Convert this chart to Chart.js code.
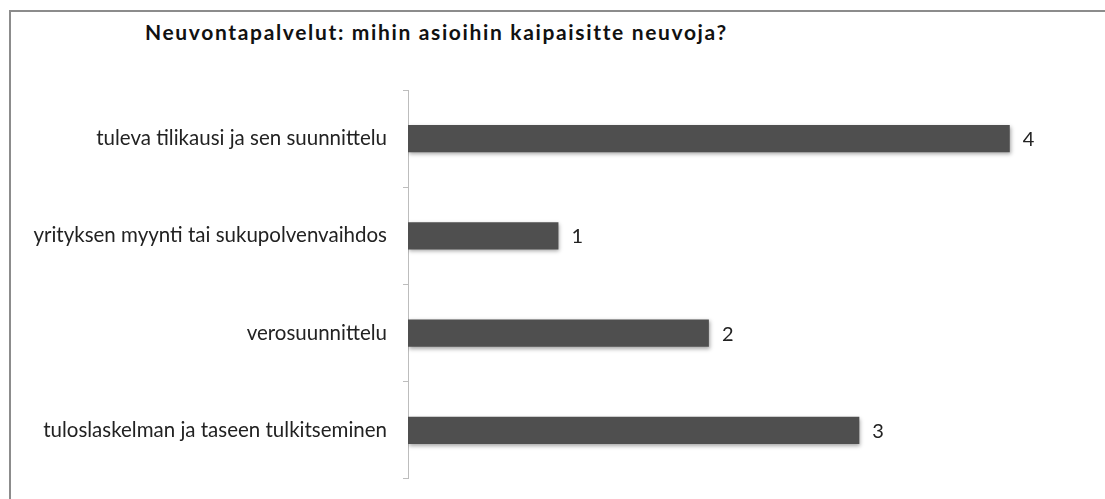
<!DOCTYPE html>
<html>
<head>
<meta charset="utf-8">
<script src="https://cdn.jsdelivr.net/npm/chart.js@4.4.1/dist/chart.umd.min.js"></script>
<style>
    html, body { margin: 0; padding: 0; background: #fff; }
    #wrap { position: relative; width: 1105px; height: 499px; overflow: hidden; }
    #frame {
        position: absolute; left: 9px; top: 10px; right: -5px; bottom: -5px;
        border-top: 2px solid #8c8c8c; border-left: 2px solid #8c8c8c;
    }
    #title {
        position: absolute; left: 145px; top: 19px;
        font: bold 21px Lato, sans-serif; letter-spacing: 1.65px; color: #111;
    }
    #chart { position: absolute; left: 0; top: 0; }
</style>
</head>
<body>
<div id="wrap">
    <div id="frame"></div>
    <div id="title">Neuvontapalvelut: mihin asioihin kaipaisitte neuvoja?</div>
    <canvas id="chart" width="1105" height="499"></canvas>
</div>
<script>
const categories = [
    'tuleva tilikausi ja sen suunnittelu',
    'yrityksen myynti tai sukupolvenvaihdos',
    'verosuunnittelu',
    'tuloslaskelman ja taseen tulkitseminen'
];
const answers = [4, 1, 2, 3];

// bar shadow + value labels next to each bar
const barExtras = {
    id: 'barExtras',
    beforeDatasetsDraw(chart) {
        const ctx = chart.ctx;
        ctx.save();
        ctx.shadowColor = 'rgba(0,0,0,0.35)';
        ctx.shadowBlur = 4;
        ctx.shadowOffsetX = 1;
        ctx.shadowOffsetY = 2;
    },
    afterDatasetsDraw(chart) {
        const ctx = chart.ctx;
        ctx.restore();
        ctx.save();
        ctx.font = '20px Lato, sans-serif';
        ctx.fillStyle = '#222';
        ctx.textBaseline = 'middle';
        chart.getDatasetMeta(0).data.forEach((bar, i) => {
            ctx.fillText(answers[i], bar.x + 13, bar.y + 1);
        });
        ctx.restore();
    }
};

const ctx = document.getElementById('chart').getContext('2d');
const chart = new Chart(ctx, {
    type: 'bar',
    data: {
        labels: categories,
        datasets: [{
            data: answers,
            backgroundColor: (c) => {
                const bar = c.element;
                if (!bar || bar.y === undefined) return '#4f4f4f';
                const grad = c.chart.ctx.createLinearGradient(0, bar.y - 14, 0, bar.y + 14);
                grad.addColorStop(0, '#5e5e5e');
                grad.addColorStop(1, '#434343');
                return grad;
            },
            borderWidth: 0,
            barPercentage: 0.56,
            categoryPercentage: 0.5
        }]
    },
    options: {
        indexAxis: 'y',
        responsive: false,
        animation: false,
        layout: { padding: { left: 0, top: 90, right: 20, bottom: 13 } },
        plugins: {
            legend: { display: false },
            tooltip: { enabled: false }
        },
        scales: {
            x: {
                display: false,
                min: 0,
                max: 4.5
            },
            y: {
                afterFit: (scale) => { scale.width = 408; },
                border: { color: '#bdbdbd', width: 1 },
                grid: {
                    offset: true,
                    drawOnChartArea: false,
                    color: '#bdbdbd',
                    tickLength: 5
                },
                ticks: {
                    padding: 16,
                    color: '#222',
                    font: { family: 'Lato', size: 20.5, lineHeight: 0.4 }
                }
            }
        }
    },
    plugins: [barExtras]
});
</script>
</body>
</html>
